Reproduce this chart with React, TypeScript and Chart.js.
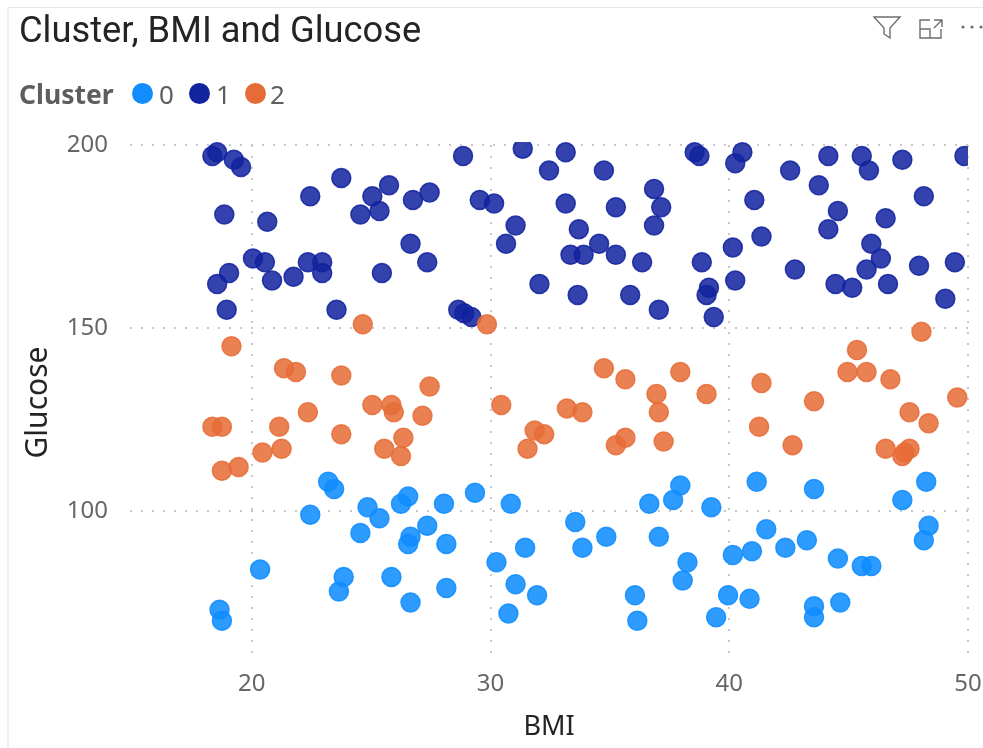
import React, { useEffect, useRef } from "react";
import { Chart, registerables } from "chart.js";

Chart.register(...registerables);

const titleText = "Cluster, BMI and Glucose";
const legendTitle = "Cluster";
const clusterNames = ["0", "1", "2"];
const clusterColors = ["#118DFF", "#12239E", "#E66C37"];
const clusterFills = ["rgba(17,141,255,0.88)", "rgba(18,35,158,0.86)", "rgba(230,108,55,0.86)"];
const xTicks = [20, 30, 40, 50];
const yTicks = [100, 150, 200];

const cluster0Bmi = [23.2, 23.45, 22.45, 24.85, 25.35, 26.55, 26.25, 28.05, 29.35, 30.85, 27.35, 33.55, 24.55, 26.65, 26.55, 28.15, 20.35, 23.85, 23.65, 25.85, 26.65, 28.15, 18.65, 18.75, 30.25, 30.75, 34.85, 33.85, 31.45, 36.65, 37.65, 37.95, 39.25, 37.05, 31.05, 31.95, 36.05, 36.15, 38.25, 38.05, 39.95, 39.45, 40.85, 40.15, 40.95, 41.55, 41.15, 42.35, 43.25, 43.55, 44.55, 45.55, 45.95, 43.55, 43.55, 44.65, 47.25, 48.25, 48.35, 48.15];
const cluster0Glucose = [108, 106, 99, 101, 98, 104, 102, 102, 105, 102, 96, 97, 94, 93, 91, 91, 84, 82, 78, 82, 75, 79, 73, 70, 86, 72, 93, 90, 90, 102, 103, 107, 101, 93, 80, 77, 77, 70, 86, 81, 77, 71, 76, 88, 89, 95, 108, 90, 92, 106, 87, 85, 85, 74, 71, 75, 103, 108, 96, 92];

const cluster1Bmi = [18.55, 18.35, 19.25, 19.55, 18.85, 23.75, 22.45, 25.75, 25.05, 24.55, 25.35, 26.75, 27.45, 20.65, 20.05, 20.55, 19.05, 18.55, 20.85, 21.75, 22.35, 22.95, 22.95, 25.45, 26.65, 27.35, 18.95, 23.55, 28.65, 28.9, 29.2, 28.85, 31.35, 33.15, 32.45, 29.55, 30.15, 33.15, 31.05, 30.65, 33.7, 33.35, 33.9, 32.05, 33.65, 34.75, 36.85, 35.25, 37.15, 36.85, 34.55, 35.25, 36.35, 38.85, 35.85, 37.05, 39.15, 39.05, 39.35, 38.55, 38.75, 40.55, 40.25, 40.15, 40.25, 41.05, 41.35, 42.55, 43.75, 44.15, 45.55, 45.85, 47.25, 49.85, 44.55, 44.15, 46.55, 48.15, 45.95, 46.35, 45.75, 47.95, 49.45, 42.75, 44.45, 45.15, 46.65, 49.05];
const cluster1Glucose = [198, 197, 196, 194, 181, 191, 186, 189, 186, 181, 182, 185, 187, 179, 169, 168, 165, 162, 163, 164, 168, 168, 165, 165, 173, 168, 155, 155, 155, 154, 153, 197, 199, 198, 193, 185, 184, 184, 178, 173, 177, 170, 170, 162, 159, 193, 188, 183, 183, 178, 173, 170, 168, 168, 159, 155, 161, 159, 153, 198, 197, 198, 195, 172, 163, 185, 175, 193, 189, 197, 197, 193, 196, 197, 182, 177, 180, 186, 173, 169, 166, 167, 168, 166, 162, 161, 162, 158];

const cluster2Bmi = [24.65, 29.85, 19.15, 21.35, 21.85, 23.75, 27.45, 22.35, 25.05, 25.85, 25.95, 27.15, 30.45, 33.2, 33.85, 18.35, 18.75, 21.15, 23.75, 26.35, 25.55, 26.25, 21.25, 20.45, 18.75, 19.45, 31.85, 32.25, 31.55, 34.75, 35.65, 36.95, 37.95, 39.05, 37.05, 35.65, 35.25, 37.25, 41.35, 43.55, 41.25, 42.65, 45.35, 44.95, 45.75, 46.75, 48.05, 49.55, 47.55, 48.35, 46.55, 47.55, 47.35, 47.25];
const cluster2Glucose = [151, 151, 145, 139, 138, 137, 134, 127, 129, 129, 127, 126, 129, 128, 127, 123, 123, 123, 121, 120, 117, 115, 117, 116, 111, 112, 122, 121, 117, 139, 136, 132, 138, 132, 127, 120, 118, 119, 135, 130, 123, 118, 144, 138, 138, 136, 149, 131, 127, 124, 117, 117, 116, 115];

const pairs = (xs: number[], ys: number[]) => xs.map((x, i) => ({ x, y: ys[i] }));

const FONT = "'Noto Sans', sans-serif";

export default function App() {
  const ref = useRef<HTMLCanvasElement>(null);

  useEffect(() => {
    document.body.style.margin = "0";
    const series = [
      pairs(cluster0Bmi, cluster0Glucose),
      pairs(cluster1Bmi, cluster1Glucose),
      pairs(cluster2Bmi, cluster2Glucose),
    ];
    const grid = {
      drawTicks: false,
      color: "#c8c8c8",
      lineWidth: 2,
    };
    const chart = new Chart(ref.current!, {
      type: "scatter",
      data: {
        datasets: series.map((data, i) => ({
          label: clusterNames[i],
          data,
          backgroundColor: clusterFills[i],
          borderColor: clusterFills[i],
          borderWidth: 1.5,
          pointRadius: 9.5,
          pointHoverRadius: 9.5,
          order: 2 - i,
          clip: { top: 3, right: 0, left: false, bottom: false } as any,
        })),
      },
      options: {
        animation: false,
        responsive: false,
        maintainAspectRatio: false,
        layout: { padding: { top: 145, right: 15, left: 0, bottom: 0 } },
        plugins: { legend: { display: false }, tooltip: { enabled: false }, title: { display: false } },
        scales: {
          x: {
            type: "linear",
            min: 14.9,
            max: 50,
            afterBuildTicks: (s: any) => { s.ticks = xTicks.map((value) => ({ value })); },
            afterFit: (s: any) => { s.height = 88; s.paddingLeft = 0; s.paddingRight = 0; },
            grid,
            border: { display: false, dash: [2, 9] },
            ticks: { color: "#666666", padding: 10, maxRotation: 0, font: { family: FONT, size: 24 } },
            title: { display: true, text: "BMI", color: "#252423", padding: { top: 0, bottom: 4 }, font: { family: FONT, size: 27 } },
          },
          y: {
            type: "linear",
            min: 59.3,
            max: 200,
            afterBuildTicks: (s: any) => { s.ticks = yTicks.map((value) => ({ value })); },
            afterFit: (s: any) => { s.width = 130; s.paddingTop = 0; s.paddingBottom = 0; },
            grid,
            border: { display: false, dash: [2, 9] },
            ticks: { color: "#666666", padding: 22, font: { family: FONT, size: 24 } },
            title: { display: true, text: "Glucose", color: "#252423", padding: { top: 20, bottom: 0 }, font: { family: FONT, size: 30 } },
          },
        },
      },
    });
    return () => chart.destroy();
  }, []);

  return (
    <div style={{ position: "absolute", left: 0, top: 0, width: 983, height: 748, overflow: "hidden", background: "#fff" }}>
      <canvas ref={ref} width={983} height={748} style={{ position: "absolute", left: 0, top: 0 }} />
      <div style={{ position: "absolute", left: 8, top: 7, right: 0, height: 1, background: "#e6e6e6" }} />
      <div style={{ position: "absolute", left: 7, top: 7, width: 2, bottom: 0, background: "#eeeeee" }} />
      <div style={{ position: "absolute", left: 19, top: 8, fontFamily: "Roboto, sans-serif", fontSize: 36.3, lineHeight: "44px", color: "#252423", whiteSpace: "nowrap" }}>
        {titleText}
      </div>
      <div style={{ position: "absolute", left: 19, top: 76, fontFamily: FONT, fontWeight: 700, fontSize: 26.5, lineHeight: "36px", color: "#605E5C", whiteSpace: "nowrap" }}>
        {legendTitle}
      </div>
      {clusterNames.map((name, i) => (
        <React.Fragment key={name}>
          <div style={{ position: "absolute", left: [132, 189, 245][i], top: 83, width: 21, height: 21, borderRadius: "50%", background: clusterColors[i] }} />
          <div style={{ position: "absolute", left: [159, 216, 270][i], top: 76, fontFamily: FONT, fontSize: 26, lineHeight: "36px", color: "#605E5C" }}>{name}</div>
        </React.Fragment>
      ))}
      <svg width={983} height={60} style={{ position: "absolute", left: 0, top: 0 }} fill="none" stroke="#6e6e6e" strokeWidth={1.4}>
        <path d="M874 17 H900 L890 28 V38 L884 34 V28 Z" />
        <path d="M930 20 H920 V38 H941 V29 M920 29 H930 V38 M934 20 H942 V27 M942 20 L934 28" />
        <g fill="#6e6e6e" stroke="none">
          <circle cx={963} cy={27} r={1.6} />
          <circle cx={972} cy={27} r={1.6} />
          <circle cx={981} cy={27} r={1.6} />
        </g>
      </svg>
    </div>
  );
}
